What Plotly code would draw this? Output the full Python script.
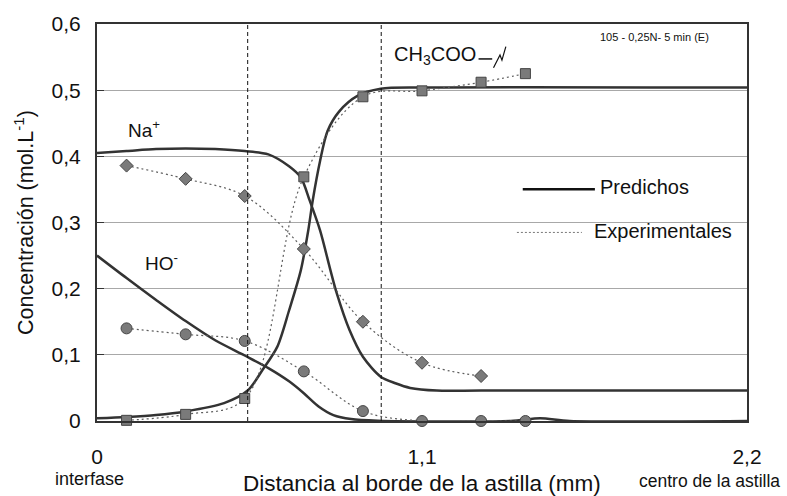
import plotly.graph_objects as go

FONT = "Liberation Sans, Arial, sans-serif"

# ---------------- data ----------------
# predicted (model) curves
na_pred_x = [0, 0.1, 0.2, 0.3, 0.4, 0.5, 0.58, 0.65, 0.69, 0.72, 0.755, 0.79, 0.81, 0.855, 0.9, 0.96, 1.01, 1.06, 1.15, 1.3, 2.2]
na_pred_y = [0.405, 0.408, 0.411, 0.412, 0.411, 0.408, 0.403, 0.385, 0.368, 0.333, 0.288, 0.228, 0.195, 0.137, 0.097, 0.067, 0.057, 0.050, 0.046, 0.046, 0.046]

ac_pred_x = [0, 0.1, 0.2, 0.3, 0.43, 0.51, 0.56, 0.61, 0.65, 0.69, 0.715, 0.73, 0.755, 0.78, 0.82, 0.88, 0.96, 1.1, 2.2]
ac_pred_y = [0.004, 0.006, 0.009, 0.0145, 0.027, 0.046, 0.077, 0.112, 0.167, 0.228, 0.288, 0.333, 0.393, 0.438, 0.468, 0.491, 0.502, 0.504, 0.504]

ho_pred_x = [0, 0.1, 0.2, 0.3, 0.4, 0.5, 0.58, 0.65, 0.7, 0.75, 0.8, 0.86, 0.95, 1.4, 1.5, 1.6, 2.2]
ho_pred_y = [0.25, 0.216, 0.183, 0.151, 0.122, 0.099, 0.08, 0.06, 0.042, 0.022, 0.009, 0.003, 0.0005, 0.0, 0.004, 0.0, 0.0]

# experimental points
na_exp_x = [0.1, 0.3, 0.5, 0.7, 0.9, 1.1, 1.3]
na_exp_y = [0.386, 0.366, 0.340, 0.260, 0.150, 0.088, 0.068]

ac_exp_x = [0.1, 0.3, 0.5, 0.7, 0.9, 1.1, 1.3, 1.45]
ac_exp_y = [0.001, 0.010, 0.034, 0.369, 0.490, 0.499, 0.512, 0.525]

ho_exp_x = [0.1, 0.3, 0.5, 0.7, 0.9, 1.1, 1.3, 1.45]
ho_exp_y = [0.140, 0.131, 0.121, 0.075, 0.015, 0.0, 0.0, 0.0]

# vertical reference (dashed) lines
zone_limits = [0.51, 0.962]

x_tickvals = [0, 1.1, 2.2]
x_ticktext = ["0", "1,1", "2,2"]
y_tickvals = [0, 0.1, 0.2, 0.3, 0.4, 0.5, 0.6]
y_ticktext = ["0", "0,1", "0,2", "0,3", "0,4", "0,5", "0,6"]

PRED_COLOR = "#333333"
EXP_LINE = "#5e5e5e"
MARK_FILL = "#7a7a7a"
MARK_EDGE = "#454545"

fig = go.Figure()

for xs, ys in [(na_pred_x, na_pred_y), (ac_pred_x, ac_pred_y), (ho_pred_x, ho_pred_y)]:
    fig.add_trace(go.Scatter(x=xs, y=ys, mode="lines",
                             line=dict(color=PRED_COLOR, width=2.5, shape="spline", smoothing=0.8),
                             showlegend=False, hoverinfo="skip"))

for xs, ys, sym, sz in [(na_exp_x, na_exp_y, "diamond", 10),
                        (ac_exp_x, ac_exp_y, "square", 10),
                        (ho_exp_x, ho_exp_y, "circle", 11)]:
    fig.add_trace(go.Scatter(x=xs, y=ys, mode="lines+markers",
                             line=dict(color=EXP_LINE, width=1.2, dash="2px,3px", shape="spline", smoothing=1),
                             marker=dict(symbol=sym, size=sz, color=MARK_FILL,
                                         line=dict(color=MARK_EDGE, width=1)),
                             cliponaxis=False, showlegend=False, hoverinfo="skip"))

shapes = []
for xl in zone_limits:
    shapes.append(dict(type="line", xref="x", yref="y", x0=xl, x1=xl, y0=0, y1=0.6,
                       line=dict(color="#111111", width=1, dash="4px,3px"), layer="above"))

# custom legend samples (paper coords)
shapes.append(dict(type="line", xref="paper", yref="paper", x0=0.655, x1=0.766, y0=0.584, y1=0.584,
                   line=dict(color="#111111", width=2.5)))
shapes.append(dict(type="line", xref="paper", yref="paper", x0=0.646, x1=0.746, y0=0.475, y1=0.475,
                   line=dict(color="#777777", width=1, dash="2px,2px")))
# small line + zigzag after CH3COO label
shapes.append(dict(type="path", xref="paper", yref="paper",
                   path="M 0.587,0.912 L 0.608,0.912",
                   line=dict(color="#111111", width=1.5)))
shapes.append(dict(type="path", xref="paper", yref="paper",
                   path="M 0.610,0.890 L 0.620,0.922 L 0.623,0.909 L 0.629,0.943",
                   line=dict(color="#111111", width=1.2)))

ann = []
ann.append(dict(text="Na<sup>+</sup>", x=0.098, y=0.442, xref="x", yref="y", showarrow=False,
                xanchor="left", yanchor="middle", font=dict(size=19, color="#111111", family=FONT)))
ann.append(dict(text="HO<sup>-</sup>", x=0.157, y=0.240, xref="x", yref="y", showarrow=False,
                xanchor="left", yanchor="middle", font=dict(size=19, color="#111111", family=FONT)))
ann.append(dict(text="CH<sub>3</sub>COO", x=0.997, y=0.552, xref="x", yref="y", showarrow=False,
                xanchor="left", yanchor="middle", font=dict(size=20, color="#111111", family=FONT)))
ann.append(dict(text="105 - 0,25N- 5 min (E)", x=0.945, y=0.966, xref="paper", yref="paper",
                showarrow=False, xanchor="right", yanchor="middle",
                font=dict(size=11, color="#111111", family=FONT)))
ann.append(dict(text="Predichos", x=0.771, y=0.589, xref="paper", yref="paper", showarrow=False,
                xanchor="left", yanchor="middle", font=dict(size=20, color="#111111", family=FONT)))
ann.append(dict(text="Experimentales", x=0.762, y=0.478, xref="paper", yref="paper", showarrow=False,
                xanchor="left", yanchor="middle", font=dict(size=20, color="#111111", family=FONT)))
ann.append(dict(text="interfase", x=-0.011, y=-0.147, xref="paper", yref="paper", showarrow=False,
                xanchor="center", yanchor="middle", font=dict(size=18, color="#111111", family=FONT)))
ann.append(dict(text="centro de la astilla", x=1.054, y=-0.152, xref="paper", yref="paper", showarrow=False,
                xanchor="right", yanchor="middle", font=dict(size=17.5, color="#111111", family=FONT)))
ann.append(dict(text="Distancia al borde de la astilla (mm)", x=0.5, y=-0.157, xref="paper", yref="paper",
                showarrow=False, xanchor="center", yanchor="middle",
                font=dict(size=22.5, color="#111111", family=FONT)))
ann.append(dict(text="Concentración (mol.L<sup>-1</sup>)", x=-0.113, y=0.5, xref="paper", yref="paper",
                showarrow=False, xanchor="center", yanchor="middle", textangle=-90,
                font=dict(size=21.5, color="#111111", family=FONT)))

fig.update_layout(
    width=787, height=496,
    margin=dict(l=97, r=40, t=22, b=75),
    paper_bgcolor="white", plot_bgcolor="white",
    font=dict(family=FONT, color="#111111"),
    shapes=shapes, annotations=ann,
    showlegend=False,
)
fig.update_xaxes(range=[0, 2.2], tickvals=x_tickvals, ticktext=x_ticktext,
                 showgrid=False, zeroline=False, showline=True, linecolor="#333333", linewidth=2,
                 mirror=True, ticks="", tickfont=dict(size=21, family=FONT, color="#111111"),
                 ticklabelstandoff=16)
fig.update_yaxes(range=[0, 0.6], tickvals=y_tickvals, ticktext=y_ticktext,
                 showgrid=True, gridcolor="#a8a8a8", gridwidth=1, zeroline=False,
                 showline=True, linecolor="#333333", linewidth=2, mirror=True,
                 ticks="inside", ticklen=7, tickcolor="#333333",
                 tickfont=dict(size=21, family=FONT, color="#111111"), ticklabelstandoff=10)

fig.write_html("out.html", config={"displayModeBar": False},
               post_script="document.body.style.margin='0';")
